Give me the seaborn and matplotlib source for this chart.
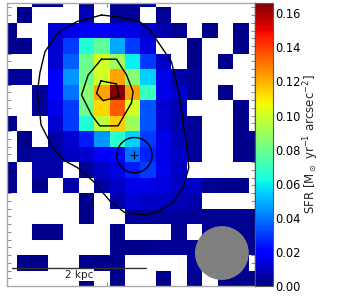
import numpy as np
import matplotlib
matplotlib.use("Agg")
import matplotlib.pyplot as plt
import seaborn as sns
from matplotlib.patches import Circle

N = np.nan
# SFR map, row by row (top to bottom), white cells are NaN
row00 = [N, N, .002, .002, N, .003, N, .003, .003, .003, N, N, N, N, N, N, N]
row01 = [N, .002, N, N, N, .008, N, .004, .004, N, .003, N, N, N, N, N, N]
row02 = [.002, N, N, .012, .015, .02, .021, .015, .015, .011, .007, .003, N, .002, N, .002, N]
row03 = [.002, .002, N, .012, .03, .065, .077, .048, .03, .014, N, N, .002, N, N, .002, N]
row04 = [N, N, N, .012, .036, .08, .1, .09, .06, .03, .01, N, .002, N, .002, N, N]
row05 = [.004, .004, N, .018, .045, .08, .1, .122, .085, .055, .015, .006, .004, N, N, N, N]
row06 = [N, N, .004, .02, .04, .085, .122, .165, .122, .07, .015, .011, .004, N, .002, N, N]
row07 = [N, N, .004, .015, .03, .08, .113, .135, .1, .035, .012, .007, N, N, N, .002, N]
row08 = [.002, N, N, .012, .03, .065, .096, .115, .09, .035, .012, .007, .003, N, N, .002, N]
row09 = [N, .002, N, .006, .012, .025, .045, .066, .055, .03, .015, .008, .004, N, N, .002, .002]
row10 = [N, .004, .006, .006, .01, .012, .018, .022, .04, .026, .015, .01, .004, N, N, .002, .002]
row11 = [.002, N, .006, .006, N, .004, .01, .015, .025, .03, .016, .01, N, N, N, N, N]
row12 = [.002, N, .002, N, .006, N, .006, .01, .016, .016, .014, .01, .01, .003, .002, .002, N]
row13 = [N, N, N, N, N, .002, N, .006, .012, .01, .01, .008, .006, N, N, N, N]
row14 = [N, N, N, N, N, .002, N, N, .004, .004, .004, .004, .004, .003, .003, .003, .002]
row15 = [N, N, .002, .002, N, N, N, .002, N, N, N, .003, N, .003, .003, .003, .002]
row16 = [N, N, N, N, N, N, N, .002, .002, .002, .003, .003, .003, .003, .003, .003, .002]
row17 = [N, .002, .002, N, N, .002, .002, .002, N, N, N, N, .004, .004, .004, .004, N]
row18 = [N, N, N, N, N, .002, N, .002, N, N, .002, N, .003, N, .002, .002, .002]
sfr_rows = [row00, row01, row02, row03, row04, row05, row06, row07, row08, row09,
            row10, row11, row12, row13, row14, row15, row16, row17, row18]

cbar_ticks = [0.00, 0.02, 0.04, 0.06, 0.08, 0.10, 0.12, 0.14, 0.16]

# contours in map cell units
outer_x = [6.48, 7.66, 8.31, 8.95, 9.60, 10.12, 11.0, 11.21, 11.54, 11.75, 12.01, 12.12, 11.75, 11.10, 10.25,
           9.39, 7.99, 7.02, 5.92, 4.95, 4.12, 3.34, 2.57, 2.46, 2.33, 2.50, 2.83, 3.66, 4.87, 6.48]
outer_y = [1.50, 1.63, 1.77, 1.93, 2.46, 3.22, 4.51, 5.37, 6.77, 8.46, 10.08, 11.37, 12.66, 13.63, 14.14,
           14.42, 14.27, 13.50, 12.21, 11.37, 10.92, 10.08, 8.59, 7.41, 6.53, 5.24, 3.86, 2.66, 1.93, 1.50]
mid_x = [6.48, 7.45, 8.10, 8.52, 8.42, 7.55, 6.37, 5.84, 5.19, 5.62, 6.48]
mid_y = [4.35, 4.35, 5.37, 6.45, 7.17, 8.66, 8.66, 7.95, 6.66, 5.37, 4.35]
inner_x = [6.44, 7.45, 7.60, 6.59, 6.16, 6.44]
inner_y = [5.75, 5.95, 6.77, 7.03, 6.55, 5.75]

sns.set_style("white")
plt.rcParams['font.family'] = ['DejaVu Sans']

W, H = 354, 296
fig = plt.figure(figsize=(W / 100, H / 100), dpi=100)
ax = fig.add_axes([7 / W, 1 - 286 / H, 248 / W, 283 / H])
cax = fig.add_axes([255 / W, 1 - 286 / H, 17.5 / W, 283 / H])

sns.heatmap(np.array(sfr_rows), cmap="jet", vmin=0, vmax=0.166, square=False, ax=ax, cbar_ax=cax,
            xticklabels=False, yticklabels=False, cbar_kws={"ticks": cbar_ticks, "format": "%.2f"})
ax.set_xlim(0.374, 16.4)
ax.set_ylim(19, 0.723)

# contours
ax.plot(outer_x, outer_y, color="black", lw=1.0)
ax.plot(mid_x, mid_y, color="black", lw=1.0)
ax.plot(inner_x, inner_y, color="black", lw=1.0)

# second source
ax.add_patch(Circle((8.61, 10.55), 1.14, fill=False, ec="black", lw=1.0))
ax.plot([8.61], [10.55], marker="+", color="black", ms=6, mew=0.8)

# beam
ax.add_patch(Circle((14.26, 16.87), 1.74, fc="#808080", ec="none", zorder=4))

# scale bar
ax.text(5.04, 18.28, "2 kpc", ha="center", va="center", fontsize=7.5, color="#222222", zorder=5,
        bbox=dict(fc="white", ec="none", pad=0.6))
ax.plot([0.72, 9.34], [17.84, 17.84], color="#333333", lw=1.0, zorder=6)

# frame and ticks
ax.set_yticks(np.arange(1, 19, 0.5))
ax.set_xticks([6.83])
ax.tick_params(axis="both", which="major", direction="in", length=3, width=0.6, color="#777777",
               left=True, right=True, top=True, bottom=True, labelleft=False, labelbottom=False)
for s in ax.spines.values():
    s.set_visible(True)
    s.set_color("#aaaaaa")
    s.set_linewidth(1.0)
ax.spines["right"].set_color("#333333")

cbar = ax.collections[0].colorbar
cbar.ax.tick_params(labelsize=8.3, length=0, pad=2, labelcolor="black")
cbar.set_label(r"SFR [M$_\odot$ yr$^{-1}$ arcsec$^{-2}$]", fontsize=8.5, labelpad=0.5)
cbar.outline.set_visible(True)
cbar.outline.set_edgecolor("#555555")
cbar.outline.set_linewidth(0.8)

fig.savefig("out.png", dpi=100, facecolor="white")
